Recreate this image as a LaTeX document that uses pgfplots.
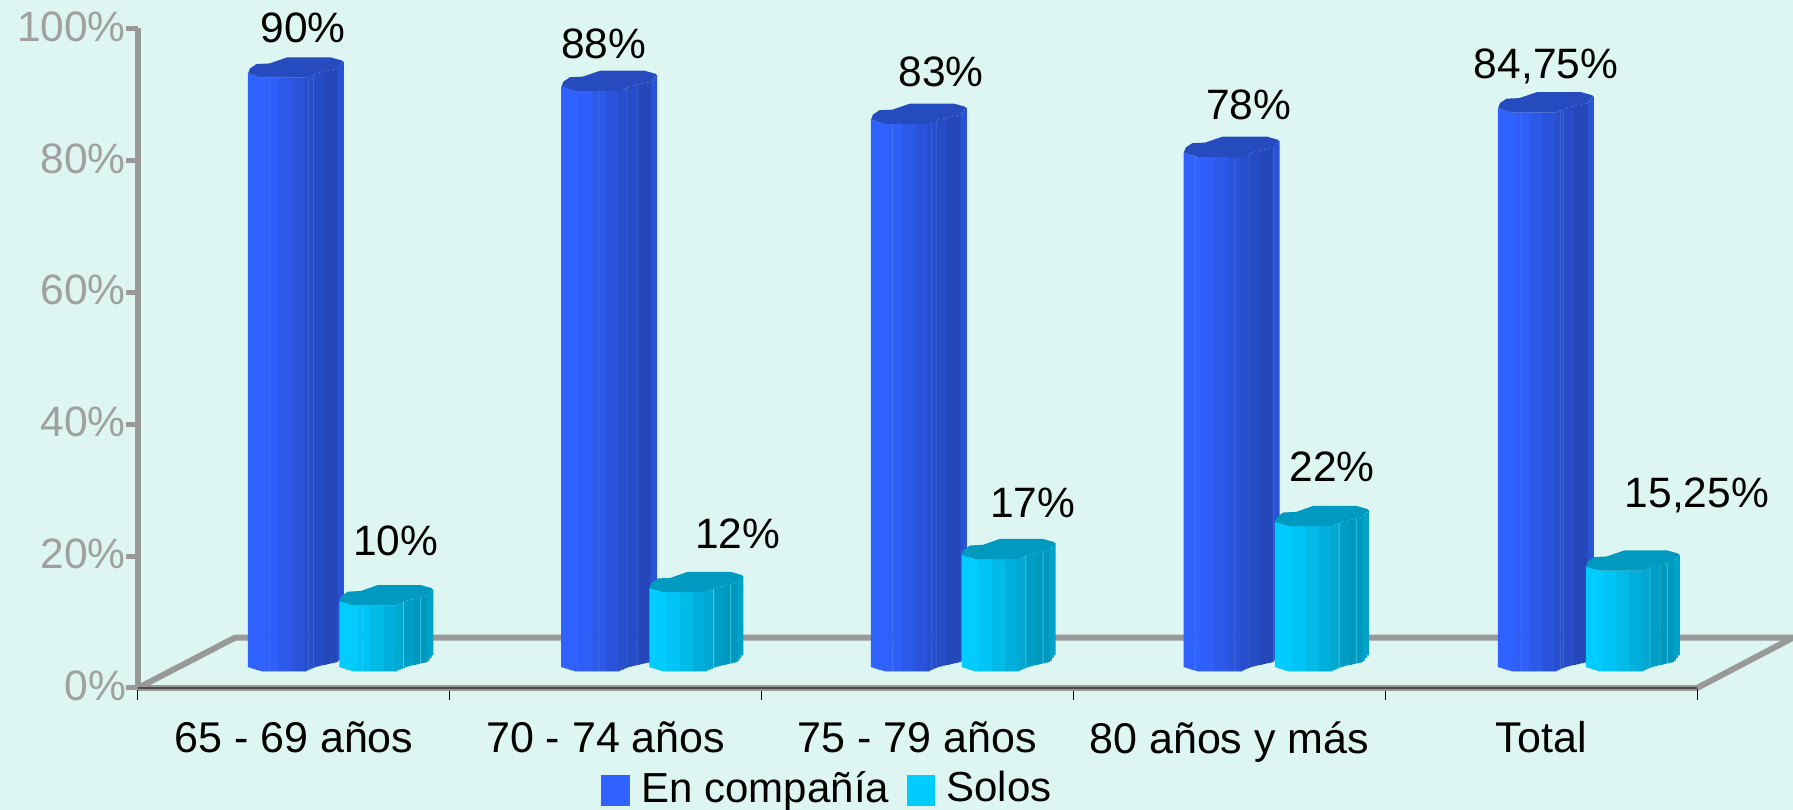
\documentclass[border=0pt]{standalone}
\usepackage{pgfplots}
\usepackage{pgfplotstable}
\usepackage{fontspec}
\setmainfont{Liberation Sans}
\pgfplotsset{compat=1.18}
\definecolor{bg}{RGB}{221,246,242}
\definecolor{axgray}{RGB}{153,153,153}
\definecolor{labgray}{RGB}{160,160,160}
\definecolor{b0}{RGB}{48,98,255}\definecolor{b1}{RGB}{47,95,248}\definecolor{b2}{RGB}{44,89,232}\definecolor{b3}{RGB}{41,83,218}
\definecolor{b4}{RGB}{39,78,205}\definecolor{b5}{RGB}{38,76,198}\definecolor{b6}{RGB}{36,72,186}\definecolor{b7}{RGB}{42,82,212}
\definecolor{c0}{RGB}{0,204,255}\definecolor{c1}{RGB}{0,196,245}\definecolor{c2}{RGB}{0,186,232}\definecolor{c3}{RGB}{0,175,220}
\definecolor{c4}{RGB}{0,168,210}\definecolor{c5}{RGB}{0,158,198}\definecolor{c6}{RGB}{0,152,190}\definecolor{c7}{RGB}{0,162,200}
\definecolor{capb}{RGB}{37,75,190}
\definecolor{capc}{RGB}{0,153,191}
\definecolor{edgeb}{RGB}{62,100,215}
\definecolor{edgec}{RGB}{70,205,225}
\pgfplotstableread{
x y
0.353 90
1.358 88
2.351 83
3.354 78
4.362 84.75
}\bluetab
\pgfplotstableread{
x y
0.6465 10
1.6405 12
2.642 17
3.647 22
4.644 15.25
}\cyantab
\pgfdeclareplotmark{topcap}{%
  \pgfpathmoveto{\pgfqpoint{0pt}{4.3pt}}
  \pgfpathlineto{\pgfqpoint{2pt}{9.3pt}}
  \pgfpathlineto{\pgfqpoint{8.7pt}{13.7pt}}
  \pgfpathlineto{\pgfqpoint{22pt}{14.3pt}}
  \pgfpathlineto{\pgfqpoint{40pt}{20.3pt}}
  \pgfpathlineto{\pgfqpoint{85pt}{20.3pt}}
  \pgfpathlineto{\pgfqpoint{97pt}{17pt}}
  \pgfpathlineto{\pgfqpoint{97pt}{16pt}}
  \pgfpathlineto{\pgfqpoint{92pt}{9.3pt}}
  \pgfpathlineto{\pgfqpoint{68.7pt}{4.3pt}}
  \pgfpathlineto{\pgfqpoint{59pt}{0pt}}
  \pgfpathlineto{\pgfqpoint{14pt}{0pt}}
  \pgfpathclose
  \pgfusepathqfill
}
\newcommand\lab[3]{\node[font=\fontsize{42.5}{50}\selectfont] at (axis cs:{(#1*1.1435-138)/311.8},{(688-#2*1.1435)/6.595}) {#3};}
\begin{document}
\begin{tikzpicture}
\path[use as bounding box, fill=bg] (-138pt,-122pt) rectangle (1655pt,688pt);
\begin{axis}[
  at={(0pt,0pt)}, anchor=south west,
  scale only axis, width=1559pt, height=659.5pt,
  xmin=0, xmax=5, ymin=0, ymax=100,
  clip=false,
  axis x line*=bottom, axis y line*=left,
  axis line style={-, draw=axgray, line width=6pt},
  tick align=outside,
  ytick={0,20,40,60,80,100},
  yticklabels={0\%,20\%,40\%,60\%,80\%,100\%},
  ytick style={draw=axgray, line width=5pt},
  major tick length=12pt,
  yticklabel style={font=\fontsize{42.5}{50}\selectfont, text=labgray, inner xsep=0pt, xshift=0pt, yshift=2pt},
  xtick={0,1,2,3,4,5},
  xticklabels={},
  x tick style={draw=black, line width=1pt},
  extra x ticks={0.5,1.5,2.5,3.5,4.5},
  extra x tick labels={65 - 69 años,70 - 74 años,75 - 79 años,80 años y más,Total},
  extra x tick style={major tick length=0pt, tick style={draw=none}, xticklabel style={font=\fontsize{43}{50}\selectfont, text=black, yshift=-30pt}},
  legend columns=2,
  legend cell align=left,
  legend style={at={(axis cs:1.485,-15.07)}, anchor=west, draw=none, fill=none, inner sep=0pt,
    font=\fontsize{42}{50}\selectfont, /tikz/every even column/.append style={column sep=16pt},
    /tikz/every odd column/.append style={column sep=10pt}},
]
% floor
\addplot[forget plot, draw=axgray, line width=6pt, line join=miter, mark=none]
  coordinates {(0,0) (0.311,7.63) (5.308,7.63) (5,0)};
\addplot[forget plot, draw=black!70, line width=1.5pt, mark=none] coordinates {(0,0) (5,0)};
% blue columns
\foreach \t in {0,2,...,96}{
  \pgfmathsetmacro\xs{\t+1}
  \pgfmathsetmacro\sh{\xs*0.975}
  \pgfmathsetmacro\dy{(\xs<14)*4.3*(1-\xs/14)+(\xs>59)*(\xs<=68.7)*4.3*(\xs-59)/9.7+(\xs>68.7)*(\xs<=92)*(4.3+5*(\xs-68.7)/23.3)+(\xs>92)*(9.3+6.7*(\xs-92)/5)+16.7}
  \pgfmathtruncatemacro\i{(\xs>=18.7)+(\xs>=32)+(\xs>=47)+(\xs>=59)+(\xs>=67)+(\xs>=79)+(\xs>=92)}
  \edef\tmp{\noexpand\addplot[forget plot, ybar, bar width=2.4pt, bar shift=\sh pt, yshift=\dy pt, draw=none, fill=b\i, mark=none] table[x=x,y=y] {\noexpand\bluetab};}
  \tmp
}
\addplot[forget plot, ybar, bar width=0.8pt, bar shift=65.3pt, yshift=20.4pt, draw=none, fill=edgeb, mark=none] table[x=x,y=y] {\bluetab};
\addplot[forget plot, only marks, mark=topcap, mark options={xscale=0.975}, yshift=16.7pt, draw=none, fill=capb, color=capb] table[x=x,y=y] {\bluetab};
% cyan columns
\foreach \t in {0,2,...,96}{
  \pgfmathsetmacro\xs{\t+1}
  \pgfmathsetmacro\sh{\xs*0.955}
  \pgfmathsetmacro\dy{(\xs<14)*4.3*(1-\xs/14)+(\xs>59)*(\xs<=68.7)*4.3*(\xs-59)/9.7+(\xs>68.7)*(\xs<=92)*(4.3+5*(\xs-68.7)/23.3)+(\xs>92)*(9.3+6.7*(\xs-92)/5)+16.7}
  \pgfmathtruncatemacro\i{(\xs>=18.7)+(\xs>=32)+(\xs>=47)+(\xs>=59)+(\xs>=67)+(\xs>=79)+(\xs>=92)}
  \edef\tmp{\noexpand\addplot[forget plot, ybar, bar width=2.4pt, bar shift=\sh pt, yshift=\dy pt, draw=none, fill=c\i, mark=none] table[x=x,y=y] {\noexpand\cyantab};}
  \tmp
}
\addplot[forget plot, ybar, bar width=0.8pt, bar shift=64pt, yshift=20.4pt, draw=none, fill=edgec, mark=none] table[x=x,y=y] {\cyantab};
\addplot[forget plot, ybar, bar width=0.8pt, bar shift=81.2pt, yshift=24.9pt, draw=none, fill=edgec, mark=none] table[x=x,y=y] {\cyantab};
\addplot[forget plot, only marks, mark=topcap, mark options={xscale=0.955}, yshift=16.7pt, draw=none, fill=capc, color=capc] table[x=x,y=y] {\cyantab};
% labels
\lab{265}{24}{90\%}
\lab{528}{38}{88\%}
\lab{823}{63}{83\%}
\lab{1092}{92}{78\%}
\lab{1352}{58}{84,75\%}
\lab{346}{473}{10\%}
\lab{645}{467}{12\%}
\lab{903}{440}{17\%}
\lab{1165}{408}{22\%}
\lab{1484}{433}{15,25\%}
% legend
\addlegendimage{legend image code/.code={\fill[b0] (0pt,-17.5pt) rectangle (28pt,12.5pt);}}
\addlegendentry{En compañía}
\addlegendimage{legend image code/.code={\fill[c0] (0pt,-17.5pt) rectangle (27pt,12.5pt);}}
\addlegendentry{Solos}
\end{axis}
\end{tikzpicture}
\end{document}
